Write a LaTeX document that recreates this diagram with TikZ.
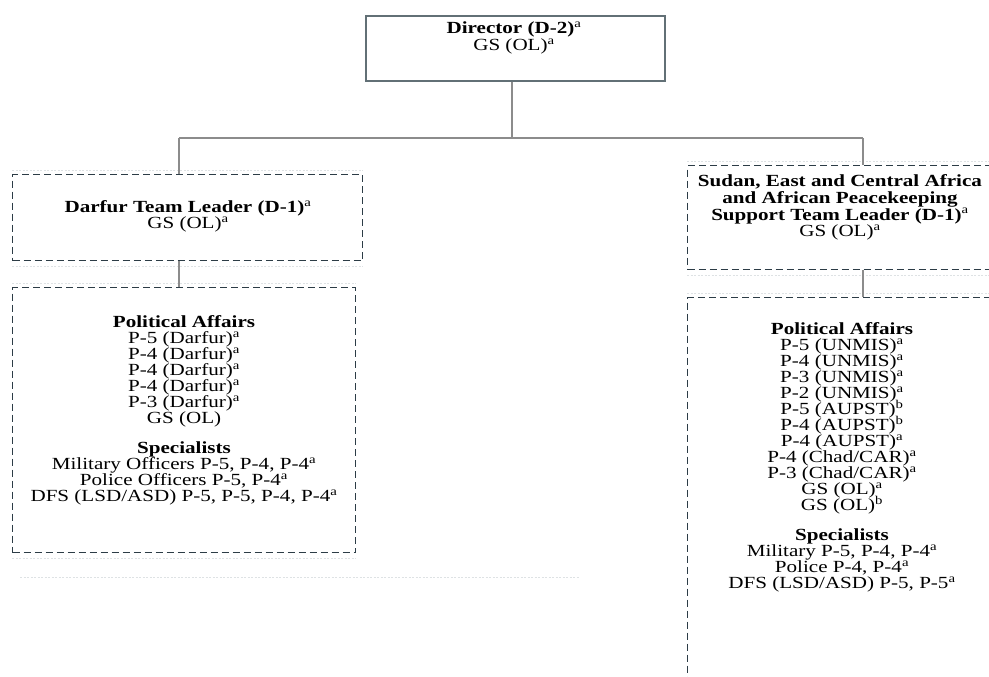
\documentclass[tikz,border=0pt]{standalone}
\usepackage{fontspec}
\setmainfont{Liberation Serif}[FakeStretch=1.24]
\definecolor{boxgray}{RGB}{98,112,118}
\definecolor{dashgray}{RGB}{44,60,70}
\definecolor{linegray}{RGB}{140,140,140}
\definecolor{ghostgray}{RGB}{222,226,228}
\newcommand{\fna}{\textsuperscript{a}}
\newcommand{\fnb}{\textsuperscript{b}}
\begin{document}
\lineskiplimit=-50pt
\begin{tikzpicture}[x=1pt,y=-1pt]
		\tikzstyle{solidbox}=[draw=boxgray,line width=1.6pt,fill=white,inner sep=0pt]
		\tikzstyle{dashbox}=[draw=dashgray,line width=1.4pt,dash pattern=on 7pt off 4pt,inner sep=0pt]
		\tikzstyle{ghost}=[draw=ghostgray,line width=1pt,dash pattern=on 2pt off 1.5pt]
		\tikzstyle{conn}=[draw=linegray,line width=1.8pt]
		\tikzstyle{txt}=[inner sep=0pt,align=center,font=\fontsize{17}{16}\selectfont]

		\useasboundingbox (0,0) rectangle (989,677);
		\clip (0,0) rectangle (989,677);

		% boxes
		\node[solidbox,minimum width=299pt,minimum height=65pt,anchor=north west] (dir) at (365,15) {};
		\node[dashbox,minimum width=350pt,minimum height=86pt,anchor=north west] (darfur) at (12,174) {};
		\node[dashbox,minimum width=343pt,minimum height=265pt,anchor=north west] (darfurpa) at (12,287) {};
		\node[dashbox,minimum width=320pt,minimum height=104pt,anchor=north west] (sudan) at (687,165) {};
		\node[dashbox,minimum width=320pt,minimum height=400pt,anchor=north west] (sudanpa) at (687,297) {};

		% faint scan lines along the dashed edges
		\foreach \b in {darfur,darfurpa,sudan,sudanpa} {
			\draw[ghost] ([yshift=4pt]\b.north west) -- ([yshift=4pt]\b.north east);
			\draw[ghost] ([yshift=-5pt]\b.south west) -- ([yshift=-5pt]\b.south east);
		}
		\coordinate (scanA) at (20,577);
		\coordinate (scanB) at (580,577);
		\draw[ghost] (scanA) -- (scanB);

		% connectors
		\coordinate (bus) at (512,138);
		\coordinate (busL) at (179,138);
		\coordinate (busR) at (863,138);
		\draw[conn] (bus |- dir.south) -- (bus);
		\draw[conn] (busL) -- (busR);
		\draw[conn] (busL) -- (busL |- darfur.north);
		\draw[conn] (busR) -- (busR |- sudan.north);
		\draw[conn] (busL |- darfur.south) -- (busL |- darfurpa.north);
		\draw[conn] (busR |- sudan.south) -- (busR |- sudanpa.north);

		% texts
		\node[txt,anchor=north,font=\fontsize{17}{17}\selectfont] (dirtxt) at (514,21.5) {\textbf{Director (D-2)}\fna\\GS (OL)\fna};
		\node[txt,anchor=north] (darfurtxt) at (188,200.5) {\textbf{Darfur Team Leader (D-1)}\fna\\GS (OL)\fna};
		\node[txt,anchor=north,font=\fontsize{17}{16.7}\selectfont] (sudantxt) at (840,174.5) {\textbf{Sudan, East and Central Africa}\\\textbf{and African Peacekeeping}\\\textbf{Support Team Leader (D-1)}\fna\\GS (OL)\fna};
		\node[txt,anchor=north] (darfurpatxt) at (184,315.5) {\textbf{Political Affairs}\\
			P-5 (Darfur)\fna\\P-4 (Darfur)\fna\\P-4 (Darfur)\fna\\P-4 (Darfur)\fna\\P-3 (Darfur)\fna\\GS (OL)\\[14pt]
			\textbf{Specialists}\\Military Officers P-5, P-4, P-4\fna\\Police Officers P-5, P-4\fna\\DFS (LSD/ASD) P-5, P-5, P-4, P-4\fna};
		\node[txt,anchor=north] (sudanpatxt) at (842,322.5) {\textbf{Political Affairs}\\
			P-5 (UNMIS)\fna\\P-4 (UNMIS)\fna\\P-3 (UNMIS)\fna\\P-2 (UNMIS)\fna\\P-5 (AUPST)\fnb\\P-4 (AUPST)\fnb\\P-4 (AUPST)\fna\\
			P-4 (Chad/CAR)\fna\\P-3 (Chad/CAR)\fna\\GS (OL)\fna\\GS (OL)\fnb\\[14pt]
			\textbf{Specialists}\\Military P-5, P-4, P-4\fna\\Police P-4, P-4\fna\\DFS (LSD/ASD) P-5, P-5\fna};
	\end{tikzpicture}
\end{document}
